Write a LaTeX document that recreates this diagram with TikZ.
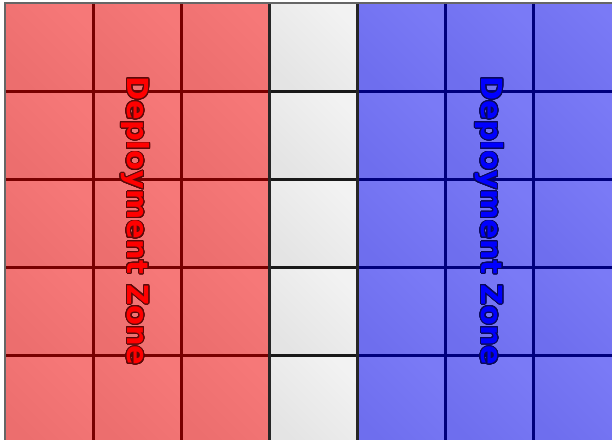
\documentclass[tikz,border=0pt]{standalone}
\usepackage{fontspec}
\newfontfamily\dzfont{DejaVu Sans}
\usepackage{contour}
\contourlength{0.9pt}
\contournumber{32}
\definecolor{redL}{RGB}{246,120,120}
\definecolor{redD}{RGB}{236,110,110}
\definecolor{bluL}{RGB}{122,122,246}
\definecolor{bluD}{RGB}{110,110,238}
\definecolor{gryL}{RGB}{242,242,242}
\definecolor{gryD}{RGB}{228,228,228}
\definecolor{redLine}{RGB}{120,0,0}
\definecolor{bluLine}{RGB}{0,0,125}
\definecolor{redTxt}{RGB}{255,0,0}
\definecolor{bluTxt}{RGB}{0,0,255}
\definecolor{redOut}{RGB}{90,10,10}
\definecolor{bluOut}{RGB}{10,10,90}
\tikzset{
  redcell/.style={top color=redL, bottom color=redD, shading angle=-45},
  blucell/.style={top color=bluL, bottom color=bluD, shading angle=-45},
  grycell/.style={top color=gryL, bottom color=gryD, shading angle=-45},
  redgrid/.style={draw=redLine, line width=3pt},
  blugrid/.style={draw=bluLine, line width=3pt},
  grygrid/.style={draw=black!90, line width=3pt},
  zonetext/.style={font=\dzfont\bfseries\fontsize{29}{29}\selectfont, rotate=-90, inner sep=0pt}
}
\begin{document}
\begin{tikzpicture}[x=1pt,y=-1pt]
\useasboundingbox (0,0) rectangle (612,439);
\begin{scope}
\clip (0,0) rectangle (612,439);
% cells
\foreach \i in {0,1,2,3,4,5,6}{
  \foreach \j in {0,1,2,3,4}{
    \pgfmathsetmacro{\xa}{5+88*\i}
    \pgfmathsetmacro{\ya}{3+88*\j}
    \ifnum\i<3
      \shade[redcell] (\xa,\ya) rectangle ++(88,88);
    \else\ifnum\i=3
      \shade[grycell] (\xa,\ya) rectangle ++(88,88);
    \else
      \shade[blucell] (\xa,\ya) rectangle ++(88,88);
    \fi\fi
  }
}
% red grid
\foreach \y in {91,179,267,355} \draw[redgrid] (5,\y) -- (269,\y);
\foreach \x in {93,181} \draw[redgrid] (\x,3) -- (\x,443);
% middle grid
\foreach \y in {91,179,267,355} \draw[grygrid] (269,\y) -- (357,\y);
% blue grid
\foreach \y in {91,179,267,355} \draw[blugrid] (357,\y) -- (621,\y);
\foreach \x in {445,533} \draw[blugrid] (\x,3) -- (\x,443);
% column separators
\foreach \x in {269,357} \draw[draw=black!85, line width=3pt] (\x,3) -- (\x,443);
% outer edges
\draw[draw=black!60, line width=2pt] (5,443) -- (5,3) -- (621,3);
\end{scope}
\node[zonetext] (zr) at (135,221) {\contour{redOut}{\textcolor{redTxt}{Deployment Zone}}};
\node[zonetext] (zb) at (489,221) {\contour{bluOut}{\textcolor{bluTxt}{Deployment Zone}}};
\end{tikzpicture}
\end{document}
